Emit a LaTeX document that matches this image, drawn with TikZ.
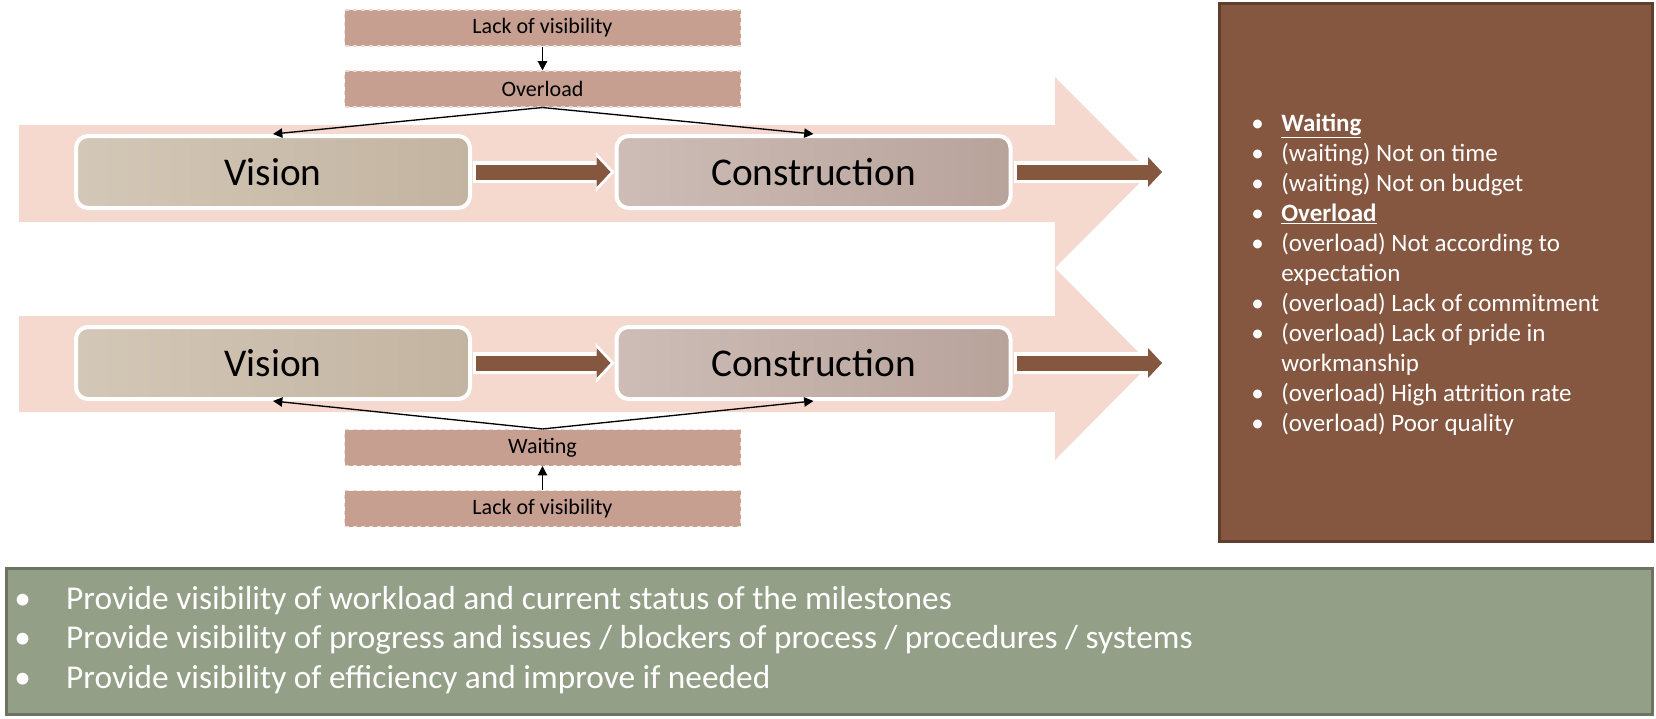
\documentclass[tikz,border=0pt]{standalone}
\usepackage{fontspec}
\setmainfont{Carlito}
\usetikzlibrary{arrows.meta}

\definecolor{bandpink}{HTML}{F5D9CE}
\definecolor{visleft}{HTML}{D3C7B7}
\definecolor{visright}{HTML}{C3B4A1}
\definecolor{conleft}{HTML}{CDBDB6}
\definecolor{conright}{HTML}{B8A39B}
\definecolor{causefill}{HTML}{C69F90}
\definecolor{causeline}{HTML}{EBDAD3}
\definecolor{flowbrown}{HTML}{85573F}
\definecolor{effectfill}{HTML}{855741}
\definecolor{effectline}{HTML}{5E3E2D}
\definecolor{actionfill}{HTML}{949F87}
\definecolor{actionline}{HTML}{6C7461}

\begin{document}
\begin{tikzpicture}[x=0.75pt, y=-0.75pt,
    vision/.style={draw=white, line width=3pt, rounded corners=9pt,
        left color=visleft, right color=visright,
        minimum width=295.5pt, minimum height=54pt,
        font=\fontsize{29.5}{35}\selectfont},
    construction/.style={vision, left color=conleft, right color=conright},
    cause/.style={fill=causefill, draw=causeline, dashed, line width=0.8pt,
        minimum width=297pt, minimum height=27pt,
        font=\fontsize{16.5}{19}\selectfont},
    link/.style={line width=1pt, -{Triangle[length=7pt, width=7pt]}},
    flow/.style={draw=flowbrown, line width=11.25pt,
        shorten <=3pt, shorten >=3pt,
        -{Triangle[length=10.5pt, width=22.5pt, line width=0pt 0]},
        preaction={draw=white, line width=16.5pt, shorten <=0.75pt, shorten >=0pt,
            -{Triangle[length=14pt, width=30pt, line width=0pt 0]}}},
    effectbox/.style={fill=effectfill, draw=effectline, line width=2.25pt,
        minimum width=324.75pt, minimum height=403.5pt},
    actionbox/.style={fill=actionfill, draw=actionline, line width=2.25pt,
        minimum width=1234.5pt, minimum height=109.5pt},
    listtext/.style={text=white, inner sep=0pt, align=left}]

    \path[use as bounding box, fill=white] (0,0) rectangle (1656,718);

    % Bands
    \fill[bandpink] (19,125) -- (1055,125) -- (1055,77) -- (1150,172.5)
        -- (1055,268) -- (1055,222) -- (19,222) -- cycle;
    \fill[bandpink] (19,316) -- (1055,316) -- (1055,268) -- (1150,364)
        -- (1055,460) -- (1055,412) -- (19,412) -- cycle;

    % Nodes
    \node[cause] (lack1) at (542.5,28) {Lack of visibility};
    \node[cause] (over) at (542.5,89) {Overload};
    \node[vision] (vis1) at (273,172) {Vision};
    \node[construction] (con1) at (813.5,172) {Construction};
    \coordinate (tip1) at (1166,172);

    \node[vision] (vis2) at (273,363) {Vision};
    \node[construction] (con2) at (813.5,363) {Construction};
    \coordinate (tip2) at (1166,363);
    \node[cause] (wait) at (542.5,447.5) {Waiting};
    \node[cause] (lack2) at (542.5,508.5) {Lack of visibility};

    \node[effectbox] (effects) at (1436,272.5) {};
    \node[listtext, anchor=north west, font=\fontsize{18.75}{22.5}\selectfont] (effectlist)
        at (1251,110) {%
        \begin{tabular}{@{}p{22.5pt}@{}l@{}}
        \textbullet & \underline{\textbf{Waiting}}\\
        \textbullet & (waiting) Not on time\\
        \textbullet & (waiting) Not on budget\\
        \textbullet & \underline{\textbf{Overload}}\\
        \textbullet & (overload) Not according to\\
                    & expectation\\
        \textbullet & (overload) Lack of commitment\\
        \textbullet & (overload) Lack of pride in\\
                    & workmanship\\
        \textbullet & (overload) High attrition rate\\
        \textbullet & (overload) Poor quality
        \end{tabular}};

    \node[actionbox] (actions) at (829.5,641.5) {};
    \node[listtext, anchor=west, font=\fontsize{25}{29.8}\selectfont] (actionlist)
        at (14,641) {%
        \begin{tabular}{@{}p{39pt}@{}l@{}}
        \textbullet & Provide visibility of workload and current status of the milestones\\
        \textbullet & Provide visibility of progress and issues / blockers of process / procedures / systems\\
        \textbullet & Provide visibility of efficiency and improve if needed
        \end{tabular}};

    % Edges
    \draw[link] (lack1) -- (over);
    \draw[link] (over.south) -- (vis1.north);
    \draw[link] (over.south) -- (con1.north);
    \draw[flow] (vis1) -- (con1);
    \draw[flow] (con1) -- (tip1);

    \draw[link] (lack2) -- (wait);
    \draw[link] (wait.north) -- (vis2.south);
    \draw[link] (wait.north) -- (con2.south);
    \draw[flow] (vis2) -- (con2);
    \draw[flow] (con2) -- (tip2);
\end{tikzpicture}
\end{document}
